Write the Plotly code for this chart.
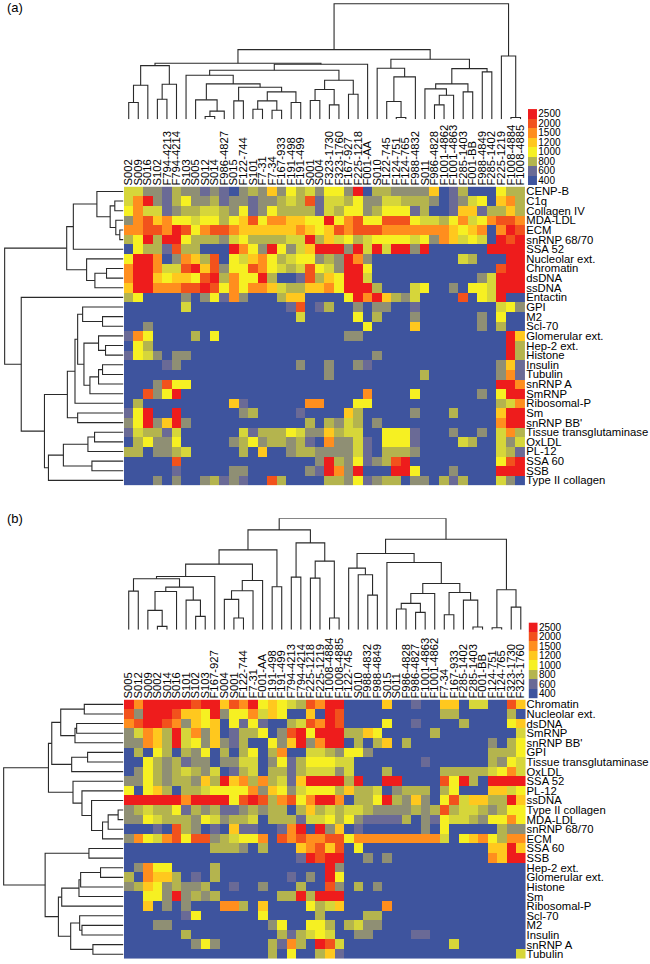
import plotly.graph_objects as go

W, H = 650, 964
FONT = "Liberation Sans"

LEVELS = [400, 600, 700, 800, 900, 1000, 1200, 1500, 2000, 2500]
LEVEL_COLORS = ["#3E549E", "#6A6A96", "#8F8F74", "#B4B44E", "#D6D63A",
                "#F6F022", "#FFC81E", "#FF8E1E", "#F2521C", "#EE1C1C"]
LEGEND_VALUES = [2500, 2000, 1500, 1200, 1000, 800, 600, 400]

ROWS_A = ["CENP-B", "C1q", "Collagen IV", "MDA-LDL", "ECM", "snRNP 68/70", "SSA 52",
          "Nucleolar ext.", "Chromatin", "dsDNA", "ssDNA", "Entactin", "GPI", "M2", "Scl-70",
          "Glomerular ext.", "Hep-2 ext.", "Histone", "Insulin", "Tubulin", "snRNP A", "SmRNP",
          "Ribosomal-P", "Sm", "snRNP BB'", "Tissue transglutaminase", "OxLDL", "PL-12",
          "SSA 60", "SSB", "Type II collagen"]
COLS_A = ["S002", "S009", "S016", "S102", "F794-4213", "F794-4214", "S103", "S005", "S012", "S014",
          "F986-4827", "S015", "F122-744", "S101", "F7-31", "F7-34", "F167-933", "F191-498",
          "F191-499", "S001", "S004", "F323-1730", "F323-1760", "F167-927", "F225-1218", "F001-AA",
          "S010", "F122-745", "F124-751", "F124-765", "F988-4832", "S011", "F986-4828", "F1001-4862",
          "F1001-4863", "F285-1403", "F001-BB", "F988-4849", "F285-1402", "F225-1219", "F1008-4884",
          "F1008-4885"]
# one digit per cell: index into LEVELS
CELLS_A = [
    "442213 221210 232625 342552 903322 226013 000533",
    "479213 522312 212234 381443 522443 332012 450673",
    "574412 334432 512533 331435 523555 130016 613363",
    "278675 545535 685776 655957 855888 544357 457887",
    "778879 857887 666666 765687 888777 777765 670798",
    "359399 533324 533334 493645 345555 452764 540989",
    "053318 330009 752952 469992 949499 290000 009999",
    "599702 763805 467534 552329 720000 000004 300099",
    "799744 896825 587543 485429 950000 000000 000899",
    "799656 658937 559300 183659 940000 000000 024999",
    "699777 889857 577643 366759 993000 450020 554999",
    "350000 202517 200036 600005 979632 400008 054900",
    "000000 400000 000001 801300 202200 100000 000452",
    "000000 000000 000000 400000 503000 200000 020500",
    "002000 000000 000000 000000 050000 600000 020300",
    "175000 030500 000000 000002 200000 000000 000096",
    "053000 000000 000000 000000 000000 000000 000093",
    "154202 200000 000000 000000 002000 000000 000093",
    "000012 000000 000000 200200 210000 000000 000261",
    "000000 000000 000000 000200 000000 030000 000271",
    "000285 500000 000000 000000 000000 000000 000997",
    "008259 000000 000000 000000 070000 500000 020599",
    "030000 000006 100000 077000 550000 000000 000347",
    "159009 000000 230000 100006 300000 200030 000699",
    "259269 200000 000000 030324 302000 000000 000799",
    "143314 000000 413335 422634 400555 100020 020473",
    "035225 000002 352332 310722 410555 100004 300424",
    "330223 400000 306002 332222 410333 200000 000431",
    "000008 000000 000000 002932 512389 000000 000589",
    "000001 000002 200000 021972 900099 500020 000999",
    "000202 002312 100830 000332 512330 220313 000420",
]

ROWS_B = ["Chromatin", "Nucleolar ext.", "dsDNA", "SmRNP", "snRNP BB'", "GPI", "Tissue transglutaminase",
          "OxLDL", "SSA 52", "PL-12", "ssDNA", "Type II collagen", "MDA-LDL", "snRNP 68/70", "ECM",
          "SSA 60", "SSB", "Hep-2 ext.", "Glomerular ext.", "Histone", "Sm", "Ribosomal-P", "Scl-70",
          "M2", "Insulin", "snRNP A", "Tubulin"]
COLS_B = ["S005", "S012", "S009", "S002", "S014", "S016", "S101", "S102", "S103", "F167-927", "S004",
          "S001", "F122-744", "F7-31", "F001-AA", "F191-498", "F191-499", "F794-4213", "F794-4214",
          "F225-1218", "F225-1219", "F1008-4884", "F1008-4885", "F122-745", "S010", "F988-4832",
          "F988-4849", "S015", "S011", "F986-4828", "F986-4827", "F1001-4863", "F1001-4862", "F7-34",
          "F167-933", "F285-1402", "F285-1403", "F001-BB", "F124-751", "F124-765", "F323-1730",
          "F323-1760"]
CELLS_B = [
    "979999 989968 795654 387990 000600 100660 440086",
    "829998 665925 574650 060980 000000 000330 000030",
    "789987 265605 151003 487980 000500 100003 000056",
    "247639 472601 335028 959993 365000 003000 000004",
    "227639 452621 300526 927990 303603 000000 002035",
    "030530 325030 350370 044325 520000 000000 003335",
    "005323 122022 440251 355544 000000 010000 003254",
    "025323 432401 340331 344424 000300 000333 334574",
    "225323 326396 737341 699993 900990 000859 309999",
    "505630 334555 572652 455536 334023 330350 006645",
    "999999 799995 898378 579970 335932 620584 663396",
    "234335 132311 232330 363434 432222 323834 432355",
    "225433 325423 340333 144535 211113 021544 325575",
    "000108 320106 110017 909260 100000 020500 000322",
    "275478 588234 557087 877885 777777 777405 675377",
    "000000 000333 203000 678680 500000 000000 006696",
    "000000 000000 000000 198990 020200 000000 007699",
    "027550 000300 000000 000920 000000 000000 000000",
    "307663 010300 000001 020950 000000 000000 000000",
    "236523 223001 002000 300820 302000 000000 000000",
    "005529 232300 000033 939990 000000 000000 000000",
    "006020 200077 306000 053460 000700 000000 000000",
    "000000 150000 005000 003000 033000 000000 000000",
    "000220 000000 000250 055303 422000 000000 000000",
    "000000 300000 000031 345400 220000 110000 000000",
    "000000 025200 000317 309840 000000 000040 000000",
    "000000 000000 000305 003610 000000 000000 000004",
]

# dendrograms: (merge height, left child, right child); an int is a leaf index
TREE_TOP_A = (347,
  (209,
    (168,
      (161, (102, (50, 0, 1), 2), (105, (60, 3, 4), 5)),
      (165,
        (147,
          (132, 6, (106, (58, 7, (24, (8, 8, 9), 10)),
                    (96, (55, 11, 12), (82, (55, (30, 13, 14), (27, 15, 16)), (50, 17, 18))))),
          (117, (89, (56, 19, 20), (43, 21, 22)), (75, 23, 24))),
        25)),
    (180,
      (153, 26, (127, (53, 27, (5, 28, 29)), 30)),
      (152, (106, (91, 31, (72, (43, 32, 33), 34)), (82, 35, 36)), (142, 37, 38)))),
  (190, 39, (5, 40, 41)))
TREE_LEFT_A = (358,
  (171,
    (151, (80, 0, (40, (26, 1, 2), (23, 3, (11, 4, 5)))), 6),
    (111, 7, (86, (51, 8, 9), 10))),
  (308, 11,
    (238,
      (169,
        (146, (138, (123, 12, (63, 13, 14)),
               (119, (75, 15, (54, 16, 17)), (101, (75, (63, 18, 19), 20), 21))), 22),
        (138, 23, 24)),
      (226, (181, (107, (87, 25, 26), 27), (95, 28, 29)), 30))))
TREE_TOP_B = (335,
  (300,
    (240,
      (197,
        (160, (153, (116, 0, 1), (128, (115, (58, 2, (10, 3, 4)), 5), (89, 6, (40, 7, 8)))), 9),
        (148, (117, (91, 10, (35, 11, 12)), 13), 14)),
      (129, 15, 16)),
    (261, (158, 17, 18), (206, (155, 19, 20), (35, 21, 22)))),
  (272,
    (229,
      (185, 23, (165, 24, (104, 25, 26))),
      (202, 27, (139, (109, (79, (62, 28, 29), (52, 30, 31)), 32),
                 (112, (45, 33, 34), (89, 35, (8, 36, 37)))))),
    (120, (6, 38, 39), (68, 40, 41))))
TREE_LEFT_B = (361,
  (226,
    (216, (189, (118, 0, 1), (146, (141, 2, 3), 4)), (156, (108, 5, 6), 7)),
    (152, 8, (125, 9, (96, 10, (63, (46, (16, 11, 12), 13), 14))))),
  (236, (104, 15, 16),
    (196, (186, (134, (129, (69, 17, 18), 19), 20), 21),
     (159, (132, 22, (125, 23, 24)), (92, 25, 26)))))

CSCALE = [[(v - LEVELS[0]) / (LEVELS[-1] - LEVELS[0]), c] for v, c in zip(LEVELS, LEVEL_COLORS)]


def decode(rows):
    return [[LEVELS[int(ch)] for ch in r.replace(" ", "")] for r in rows]


def walk(node, a, b):
    """Return (leaf position, height) and collect the dendrogram's segments."""
    if isinstance(node, int):
        return node, 0
    h, l, r = node
    xl, hl = walk(l, a, b)
    xr, hr = walk(r, a, b)
    a += [xl, xl, xr, xr, None]
    b += [hl, h, h, hr, None]
    return (xl + xr) / 2, h


fig = go.Figure()
layout = dict(width=W, height=H, margin=dict(l=0, r=0, t=0, b=0), paper_bgcolor="white",
              plot_bgcolor="rgba(0,0,0,0)", showlegend=False, font=dict(family=FONT, color="black"))
n_ax = [0]


def axes(x0, x1, y0, y1, xrange, yrange, **xtra):
    n_ax[0] += 1
    k = n_ax[0]
    s = "" if k == 1 else str(k)
    xa = dict(domain=[x0 / W, x1 / W], range=xrange, showgrid=False, zeroline=False,
              showticklabels=False, ticks="", showline=False, anchor="y" + s, fixedrange=True)
    ya = dict(domain=[max(0, 1 - y1 / H), min(1, 1 - y0 / H)], range=yrange, showgrid=False, zeroline=False,
              showticklabels=False, ticks="", showline=False, anchor="x" + s, fixedrange=True)
    xa.update(xtra.get("x", {}))
    ya.update(xtra.get("y", {}))
    layout["xaxis" + s] = xa
    layout["yaxis" + s] = ya
    return "x" + s, "y" + s


LINE = dict(color="#2A2A2A", width=1.1)
TICKF = dict(family=FONT, size=11.3, color="black")
KEYF = dict(family=FONT, size=10, color="black")


def panel(cells, rows, cols, tree_top, tree_left, hx, hy, top_base, top_max, leg_y, leg_x):
    nr, nc = len(rows), len(cols)
    xr, yr = [-0.5, nc - 0.5], [nr - 0.5, -0.5]
    xa, ya = axes(hx[0], hx[1], hy[0], hy[1], xr, yr,
                  x=dict(side="top", tickmode="array", tickvals=list(range(nc)), ticktext=cols,
                         showticklabels=True, tickangle=-90, tickfont=TICKF, ticklen=0),
                  y=dict(side="right", tickmode="array", tickvals=list(range(nr)), ticktext=rows,
                         showticklabels=True, tickfont=TICKF, ticklen=0))
    fig.add_trace(go.Heatmap(z=decode(cells), x=list(range(nc)), y=list(range(nr)), colorscale=CSCALE,
                             zmin=LEVELS[0], zmax=LEVELS[-1], showscale=False, xaxis=xa, yaxis=ya,
                             zsmooth=False))
    # top dendrogram
    a, b = [], []
    walk(tree_top, a, b)
    xa, ya = axes(hx[0], hx[1], top_base - top_max / 3, top_base, xr, [0, top_max])
    fig.add_trace(go.Scatter(x=a, y=b, mode="lines", line=LINE, xaxis=xa, yaxis=ya, hoverinfo="skip"))
    # left dendrogram
    a, b = [], []
    walk(tree_left, a, b)
    xa, ya = axes(0, 122, hy[0], hy[1], [366, 0], yr)
    fig.add_trace(go.Scatter(x=b, y=a, mode="lines", line=LINE, xaxis=xa, yaxis=ya, hoverinfo="skip"))
    # colour key
    xa, ya = axes(leg_x, leg_x + 9.4, leg_y[0], leg_y[1], [-0.5, 0.5], [7.5, -0.5],
                  y=dict(side="right", tickmode="array", tickvals=list(range(8)),
                         ticktext=[str(v) for v in LEGEND_VALUES], showticklabels=True,
                         tickfont=KEYF, ticklen=0))
    fig.add_trace(go.Heatmap(z=[[v] for v in LEGEND_VALUES], x=[0], y=list(range(8)), colorscale=CSCALE,
                             zmin=LEVELS[0], zmax=LEVELS[-1], showscale=False, xaxis=xa, yaxis=ya))


panel(CELLS_A, ROWS_A, COLS_A, TREE_TOP_A, TREE_LEFT_A, (122.5, 525.7), (186, 485.2),
      118.4, 355, (108.3, 184.3), 528.4)
panel(CELLS_B, ROWS_B, COLS_B, TREE_TOP_B, TREE_LEFT_B, (122.5, 526), (700, 960),
      630, 335, (622.7, 699), 529)

layout["annotations"] = [
    dict(text="(a)", x=3 / W, y=1 - 7 / H, xref="paper", yref="paper", xanchor="left", yanchor="middle",
         showarrow=False, font=dict(family=FONT, size=13, color="black")),
    dict(text="(b)", x=3 / W, y=1 - 519 / H, xref="paper", yref="paper", xanchor="left", yanchor="middle",
         showarrow=False, font=dict(family=FONT, size=13, color="black")),
]
fig.update_layout(**layout)
fig.write_html("out.html", config={"displayModeBar": False},
               post_script="document.body.style.margin='0';document.body.style.overflow='hidden';")
